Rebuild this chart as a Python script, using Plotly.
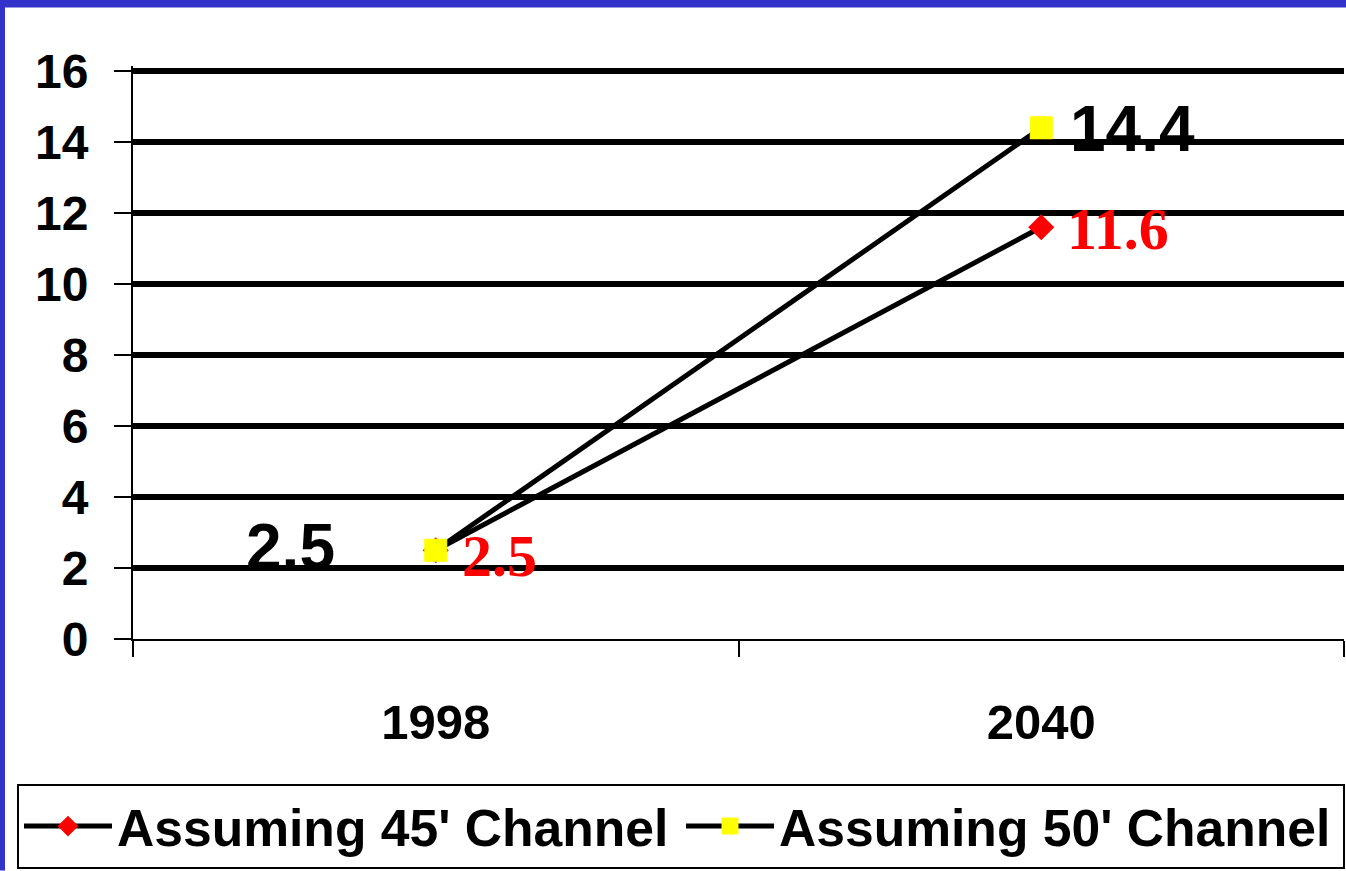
import plotly.graph_objects as go

years = ["1998", "2040"]
channel_45 = [2.5, 11.6]
channel_50 = [2.5, 14.4]
series_names = ["Assuming 45' Channel", "Assuming 50' Channel"]
y_ticks = [0, 2, 4, 6, 8, 10, 12, 14, 16]

W, H = 1346, 871
ML, MR, MT, MB = 133, 2, 66, 228
pw = W - ML - MR
ph = H - MT - MB
Y_TOP = 16.14  # a little headroom so the 16 gridline is drawn fully

def px_x(p):
    return (p - ML) / pw

def px_y(p):
    return (H - MB - p) / ph

SANS = "Arial, Liberation Sans, sans-serif"
SERIF = "Times New Roman, Liberation Serif, serif"

fig = go.Figure()
fig.add_trace(go.Scatter(
    x=years, y=channel_45, name=series_names[0], mode="lines+markers",
    line=dict(color="black", width=5),
    marker=dict(symbol="diamond", size=20, color="#FF0000", line=dict(width=0)),
))
fig.add_trace(go.Scatter(
    x=years, y=channel_50, name=series_names[1], mode="lines+markers",
    line=dict(color="black", width=5),
    marker=dict(symbol="square", size=22, color="#FFFF00", line=dict(width=1, color="#FFFF00")),
))

annotations = []
# 45' channel labels (red serif), to the right of the points
for i, (yv, ys) in enumerate(zip(channel_45, [-6, -2])):
    annotations.append(dict(
        x=i, y=yv, xref="x", yref="y", text=f"{yv:.1f}", showarrow=False,
        xanchor="left", yanchor="middle", xshift=24, yshift=ys,
        font=dict(family=SERIF, size=60, color="#FF0000", weight="bold"),
    ))
# 50' channel labels (black sans)
annotations.append(dict(
    x=0, y=channel_50[0], xref="x", yref="y", text=f"{channel_50[0]:.1f}",
    showarrow=False, xanchor="right", yanchor="middle", xshift=-99, yshift=3,
    font=dict(family=SANS, size=64, color="black", weight="bold"),
))
annotations.append(dict(
    x=1, y=channel_50[1], xref="x", yref="y", text=f"{channel_50[1]:.1f}",
    showarrow=False, xanchor="left", yanchor="middle", xshift=27, yshift=-1,
    font=dict(family=SANS, size=64, color="black", weight="bold"),
))

blue = "#3333CC"
shapes = [
    dict(type="rect", xref="paper", yref="paper", x0=px_x(-5), x1=px_x(W + 5),
         y0=px_y(7), y1=px_y(-5), fillcolor=blue, line=dict(width=0), layer="above"),
    dict(type="rect", xref="paper", yref="paper", x0=px_x(-5), x1=px_x(5),
         y0=px_y(H + 5), y1=px_y(-5), fillcolor=blue, line=dict(width=0), layer="above"),
]

fig.update_layout(
    width=W, height=H,
    margin=dict(l=ML, r=MR, t=MT, b=MB, pad=0),
    paper_bgcolor="white", plot_bgcolor="white",
    font=dict(family=SANS, color="black"),
    showlegend=True,
    legend=dict(
        orientation="h", x=px_x(17), y=px_y(789), xanchor="left", yanchor="top",
        bordercolor="black", borderwidth=2, bgcolor="white",
        font=dict(family=SANS, size=51.6, color="black", weight="bold"),
        itemwidth=88, entrywidth=559, entrywidthmode="pixels", tracegroupgap=0,
    ),
    xaxis=dict(
        type="category", range=[-0.5, 1.5], showgrid=False, zeroline=False,
        showline=True, linecolor="black", linewidth=2,
        ticks="outside", tickson="boundaries", ticklen=16, tickwidth=2, tickcolor="black",
        tickfont=dict(family=SANS, size=49, color="black", weight="bold"),
        ticklabelstandoff=39,
    ),
    yaxis=dict(
        range=[0, Y_TOP], tickvals=y_ticks, showgrid=True, gridcolor="black", gridwidth=6,
        zeroline=False, showline=True, linecolor="black", linewidth=2,
        ticks="outside", ticklen=17, tickwidth=2, tickcolor="black",
        tickfont=dict(family=SANS, size=48, color="black", weight="bold"),
        ticklabelstandoff=16,
    ),
    annotations=annotations,
    shapes=shapes,
)

fig.write_html(
    "out.html",
    config={"displayModeBar": False},
    post_script="document.body.style.margin='0';document.body.style.overflow='hidden';",
)
